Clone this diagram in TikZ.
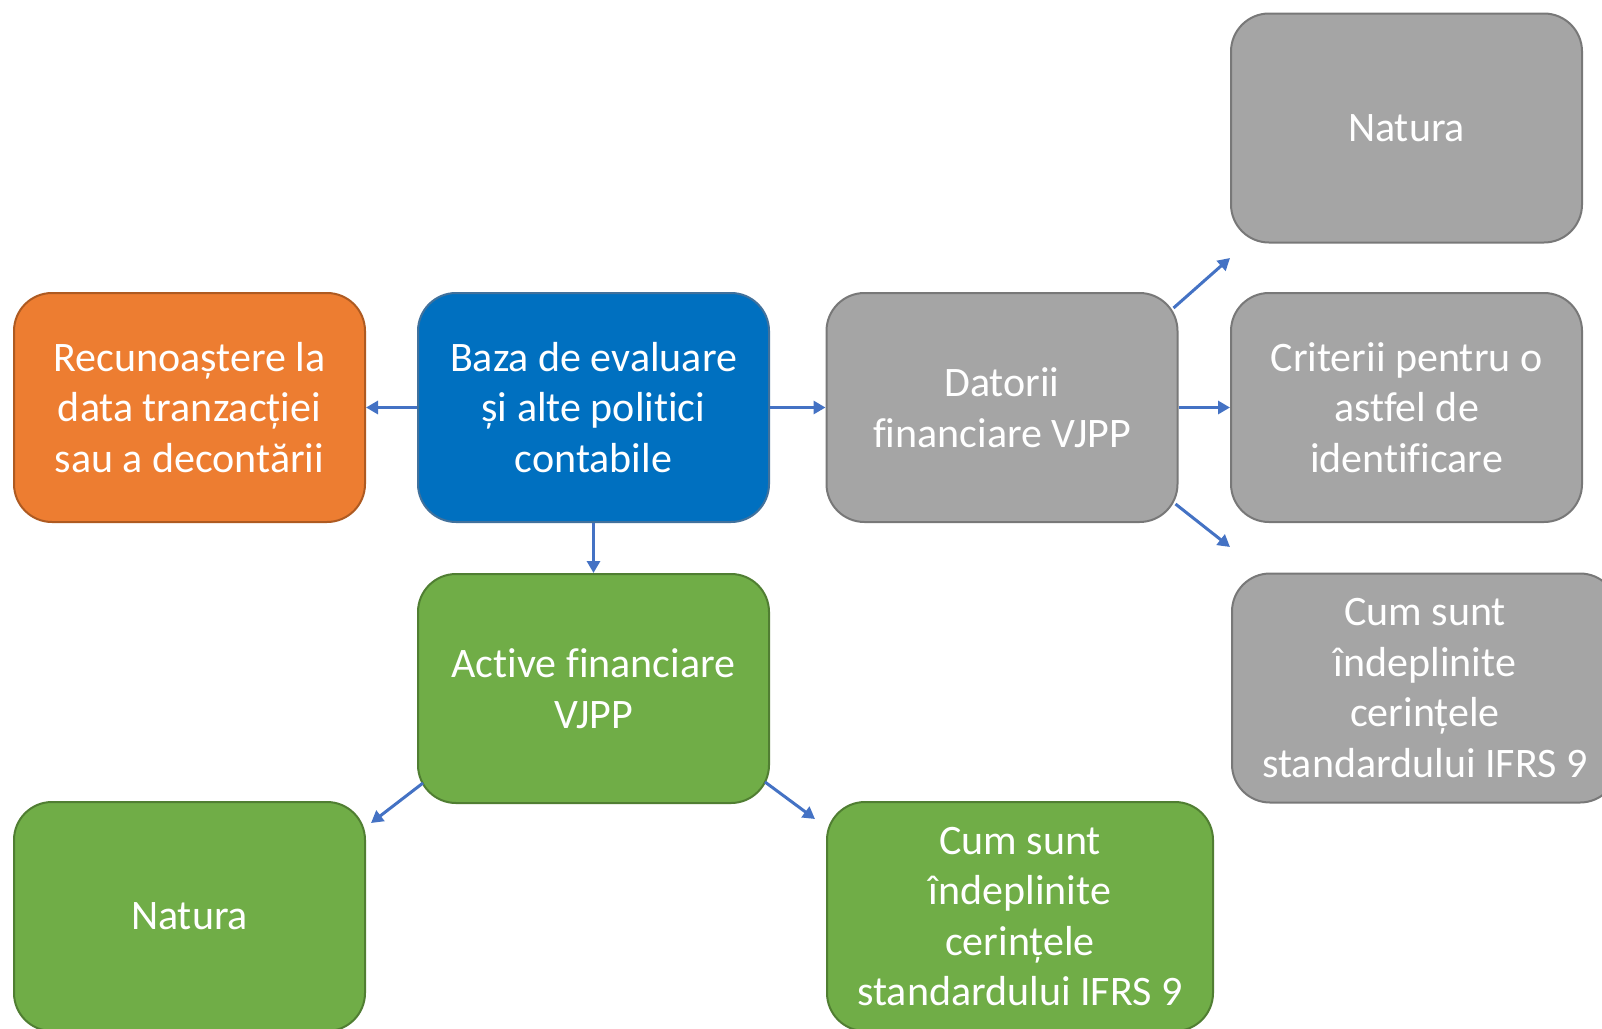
\documentclass[tikz,border=0pt]{standalone}
\usepackage{fontspec}
\setmainfont{Carlito}[Ligatures=NoCommon]
\usetikzlibrary{arrows.meta,calc}
\definecolor{orangeF}{HTML}{ED7D31}
\definecolor{orangeD}{HTML}{AE5A21}
\definecolor{blueF}{HTML}{0070C0}
\definecolor{blueD}{HTML}{41719C}
\definecolor{greyF}{HTML}{A5A5A5}
\definecolor{greyD}{HTML}{787878}
\definecolor{greenF}{HTML}{70AD47}
\definecolor{greenD}{HTML}{507E32}
\definecolor{arrowC}{HTML}{4472C4}
\begin{document}
\begin{tikzpicture}[x=1pt,y=-1pt,
  box/.style={rectangle, rounded corners=38pt, line width=2pt,
    minimum width=351pt, minimum height=229pt, inner sep=0pt,
    align=center, text=white, font=\fontsize{42}{50.5}\selectfont},
  wide/.style={minimum width=386pt},
  orangebox/.style={box, fill=orangeF, draw=orangeD},
  bluebox/.style={box, fill=blueF, draw=blueD},
  greybox/.style={box, fill=greyF, draw=greyD},
  greenbox/.style={box, fill=greenF, draw=greenD},
  arr/.style={draw=arrowC, line width=3pt, -{Triangle[length=12pt,width=13pt]}}]
\useasboundingbox (0,0) rectangle (1602,1028);
\clip (0,0) rectangle (1602,1028);
\fill[white] (0,0) rectangle (1602,1028);

\node[orangebox] (rec) at (189.5,407.5) {Recunoaștere la\\data tranzacției\\sau a decontării};
\node[bluebox] (baza) at (593.5,407.5) {Baza de evaluare\\și alte politici\\contabile};
\node[greybox] (dat) at (1002,407.5) {Datorii\\financiare VJPP};
\node[greybox] (gnat) at (1406.5,128) {Natura};
\node[greybox] (crit) at (1406.5,407.5) {Criterii pentru o\\astfel de\\identificare};
\node[greybox, wide] (gcum) at (1425,688) {Cum sunt\\îndeplinite\\cerințele\\standardului IFRS 9};
\node[greenbox] (act) at (593.5,688.5) {Active financiare\\VJPP};
\node[greenbox] (vnat) at (189.5,916.5) {Natura};
\node[greenbox, wide] (vcum) at (1020,916.5) {Cum sunt\\îndeplinite\\cerințele\\standardului IFRS 9};

\coordinate (e1) at (1230,258);
\coordinate (e2) at (1230,547);
\coordinate (e3) at (371,823);
\coordinate (e4) at (815,819);

\draw[arr] (baza.west) -- (rec.east);
\draw[arr] (baza.east) -- (dat.west);
\draw[arr] (baza.south) -- (act.north);
\draw[arr] (dat.east) -- (crit.west);
\draw[arr] ($(dat.north east)+(-5,16)$) -- (e1);
\draw[arr] ($(dat.south east)+(-3,-19)$) -- (e2);
\draw[arr] ($(act.south west)+(6,-21)$) -- (e3);
\draw[arr] ($(act.south east)+(-5,-22)$) -- (e4);
\end{tikzpicture}
\end{document}
